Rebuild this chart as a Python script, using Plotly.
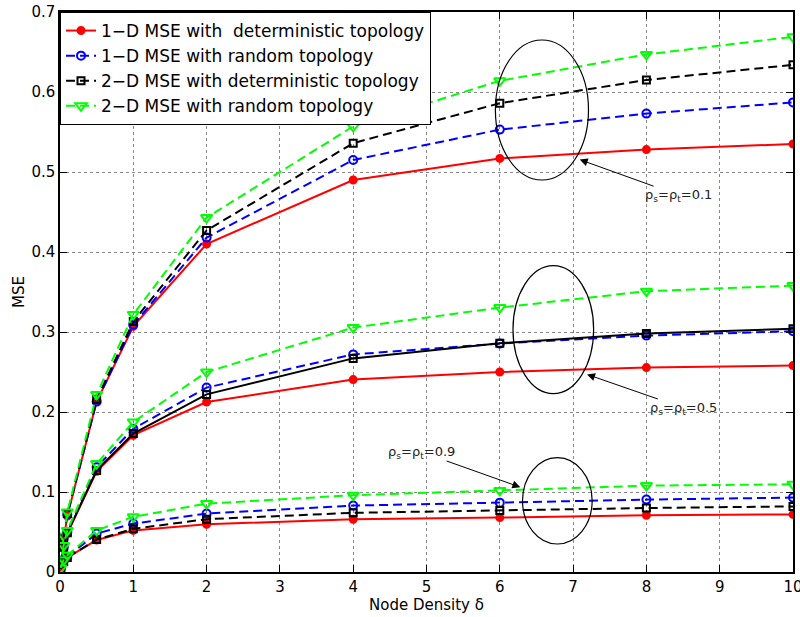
import plotly.graph_objects as go

# ---------------- data ----------------
delta = [0.01, 0.05, 0.1, 0.5, 1, 2, 4, 6, 8, 10]

# rho = 0.1
mse_1d_det_01 = [0.008, 0.040, 0.070, 0.213, 0.307, 0.410, 0.490, 0.517, 0.528, 0.535]
mse_1d_rnd_01 = [0.009, 0.042, 0.072, 0.213, 0.309, 0.418, 0.515, 0.553, 0.573, 0.587]
mse_2d_det_01 = [0.009, 0.043, 0.073, 0.216, 0.313, 0.427, 0.536, 0.586, 0.615, 0.634]
mse_2d_rnd_01 = [0.010, 0.045, 0.075, 0.222, 0.322, 0.443, 0.557, 0.614, 0.647, 0.669]
# rho = 0.5
mse_1d_det_05 = [0.006, 0.030, 0.048, 0.126, 0.171, 0.2125, 0.2405, 0.250, 0.2555, 0.258]
mse_1d_rnd_05 = [0.006, 0.031, 0.050, 0.131, 0.179, 0.2305, 0.272, 0.2855, 0.2955, 0.301]
mse_2d_det_05 = [0.006, 0.031, 0.049, 0.127, 0.173, 0.222, 0.267, 0.286, 0.298, 0.304]
mse_2d_rnd_05 = [0.007, 0.033, 0.052, 0.1355, 0.1875, 0.250, 0.3055, 0.3305, 0.351, 0.358]
# rho = 0.9
mse_1d_det_09 = [0.004, 0.013, 0.018, 0.040, 0.052, 0.0596, 0.066, 0.068, 0.071, 0.072]
mse_1d_rnd_09 = [0.004, 0.014, 0.019, 0.048, 0.0605, 0.073, 0.083, 0.0867, 0.0905, 0.093]
mse_2d_det_09 = [0.004, 0.013, 0.018, 0.0405, 0.054, 0.066, 0.074, 0.077, 0.080, 0.082]
mse_2d_rnd_09 = [0.005, 0.015, 0.021, 0.052, 0.069, 0.0855, 0.096, 0.102, 0.108, 0.1096]

legend_names = [
    "1\u2212D MSE with\u00a0 deterministic topology",
    "1\u2212D MSE with random topology",
    "2\u2212D MSE with deterministic topology",
    "2\u2212D MSE with random topology",
]

x_ticks = list(range(0, 11))
y_ticks = [0, 0.1, 0.2, 0.3, 0.4, 0.5, 0.6, 0.7]

# annotation ellipses (data units): x0, x1, y0, y1
ellipses = [
    (5.94, 7.21, 0.490, 0.665),
    (6.18, 7.28, 0.223, 0.383),
    (6.31, 7.26, 0.035, 0.143),
]
# labelled arrows: (text, text_center_x, text_center_y, head_x, head_y)
labels = [
    ("\u03c1<sub>s</sub>=\u03c1<sub>t</sub>=0.1", 8.44, 0.471, 7.09, 0.5155),
    ("\u03c1<sub>s</sub>=\u03c1<sub>t</sub>=0.5", 8.51, 0.205, 7.19, 0.247),
    ("\u03c1<sub>s</sub>=\u03c1<sub>t</sub>=0.9", 4.93, 0.150, 6.28, 0.106),
]

# ---------------- styles ----------------
FONT = "DejaVu Sans"
styles = [
    dict(color="#ff0000", dash="solid", symbol="circle", size=7),
    dict(color="#0000ff", dash="9px,5px", symbol="circle-open", size=8),
    dict(color="#000000", dash="9px,5px", symbol="square-open", size=7),
    dict(color="#00ff00", dash="9px,5px", symbol="triangle-down-open", size=10),
]

groups = [
    [mse_1d_det_01, mse_1d_rnd_01, mse_2d_det_01, mse_2d_rnd_01],
    [mse_1d_det_05, mse_1d_rnd_05, mse_2d_det_05, mse_2d_rnd_05],
    [mse_1d_det_09, mse_1d_rnd_09, mse_2d_det_09, mse_2d_rnd_09],
]

fig = go.Figure()
for gi, group in enumerate(groups):
    for si, ys in enumerate(group):
        st = styles[si]
        dash = st["dash"]
        if gi == 1 and si == 2:
            dash = "solid"
        fig.add_trace(go.Scatter(
            x=delta, y=ys, mode="lines+markers",
            name=legend_names[si],
            showlegend=(gi == 0),
            line=dict(color=st["color"], width=2, dash=dash),
            marker=dict(symbol=st["symbol"], size=st["size"], color=st["color"],
                        line=dict(color=st["color"], width=2)),
        ))

for (x0, x1, y0, y1) in ellipses:
    fig.add_shape(type="circle", xref="x", yref="y", x0=x0, x1=x1, y0=y0, y1=y1,
                  line=dict(color="black", width=1.2))

for (txt, tx, ty, hx, hy) in labels:
    fig.add_annotation(x=hx, y=hy, ax=tx, ay=ty, xref="x", yref="y",
                       axref="x", ayref="y", text=txt, showarrow=True,
                       arrowhead=2, arrowsize=1.6, arrowwidth=1, arrowcolor="black",
                       standoff=0, borderpad=0,
                       font=dict(family=FONT, size=13, color="#222"))

axis_common = dict(
    showline=True, linecolor="black", linewidth=1.5, mirror="ticks",
    ticks="inside", ticklen=7, tickwidth=1, tickcolor="black",
    showgrid=True, gridcolor="#888", griddash="dot", gridwidth=1,
    zeroline=False, automargin=False,
    tickfont=dict(family=FONT, size=15, color="black"),
)

fig.update_xaxes(range=[0, 10], tickvals=x_ticks, ticklabeloverflow="allow",
                 title=dict(text="Node Density \u03b4", font=dict(family=FONT, size=15, color="black"),
                            standoff=4),
                 **axis_common)
fig.update_yaxes(range=[0, 0.7], tickvals=y_ticks,
                 title=dict(text="MSE", font=dict(family=FONT, size=15, color="black"),
                            standoff=3),
                 **axis_common)

fig.update_layout(
    width=800, height=617,
    margin=dict(l=60, r=7, t=12, b=45),
    paper_bgcolor="white", plot_bgcolor="white",
    showlegend=True,
    legend=dict(x=0, y=1, xanchor="left", yanchor="top",
                bgcolor="white", bordercolor="black", borderwidth=1,
                font=dict(family=FONT, size=17, color="black"),
                itemwidth=30, tracegroupgap=0),
)

fig.write_html("out.html")
